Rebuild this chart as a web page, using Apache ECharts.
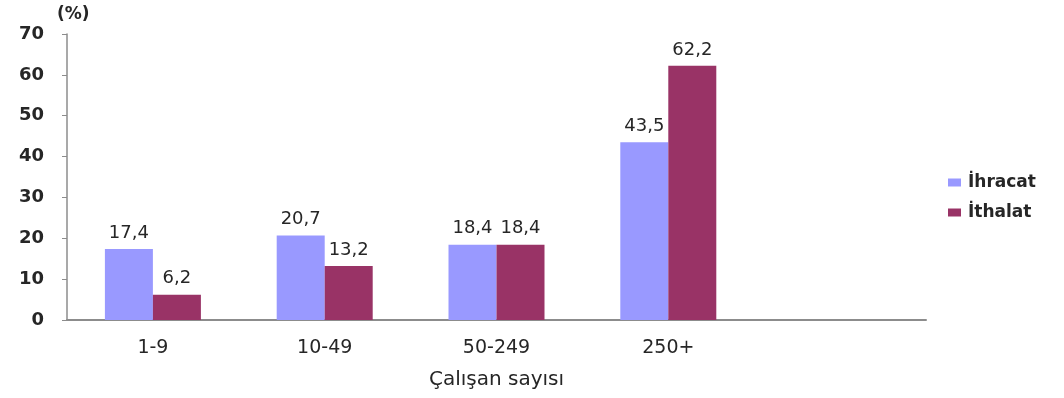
<!DOCTYPE html>
<html>
<head>
<meta charset="utf-8">
<script src="https://cdn.jsdelivr.net/npm/echarts@6/dist/echarts.min.js"></script>
<style>
  html, body { margin: 0; padding: 0; background: #fff; }
  #chart { width: 1064px; height: 398px; }
</style>
</head>
<body>
<div id="chart"></div>
<script>
// Employee-size classes (last slot left empty to leave room on the right)
const categories = ['1-9', '10-49', '50-249', '250+', ''];
const ihracat = [17.4, 20.7, 18.4, 43.5, null];
const ithalat = [6.2, 13.2, 18.4, 62.2, null];
const yTicks = [0, 10, 20, 30, 40, 50, 60, 70];

const FONT = '"DejaVu Sans", "Liberation Sans", Arial, sans-serif';
const TEXT = '#262626';
const fmt = p => String(p.value).replace('.', ',');

const barLabel = {
  show: true, position: 'top', distance: 7, formatter: fmt,
  fontFamily: FONT, fontSize: 18, color: TEXT
};

const chart = echarts.init(document.getElementById('chart'));
chart.setOption({
  animation: false,
  backgroundColor: '#ffffff',
  textStyle: { fontFamily: FONT },
  grid: { left: 67, right: 138, top: 34, bottom: 78, containLabel: false, outerBoundsMode: 'none' },
  legend: {
    orient: 'vertical',
    left: 943,
    top: 169,
    itemWidth: 13,
    itemHeight: 8,
    itemGap: 13,
    icon: 'rect',
    textStyle: { fontFamily: FONT, fontSize: 17, fontWeight: 'bold', color: TEXT, padding: [0, 0, 0, 2] },
    data: ['İhracat', 'İthalat']
  },
  xAxis: {
    type: 'category',
    data: categories,
    name: 'Çalışan sayısı',
    nameLocation: 'middle',
    nameGap: 50,
    nameTextStyle: { fontFamily: FONT, fontSize: 20, color: TEXT },
    axisLine: { lineStyle: { color: '#8c8c8c', width: 2 } },
    axisTick: { show: false },
    axisLabel: { fontFamily: FONT, fontSize: 19, color: TEXT, margin: 19 }
  },
  yAxis: {
    type: 'value',
    min: yTicks[0],
    max: yTicks[yTicks.length - 1],
    interval: 10,
    name: '(%)',
    nameLocation: 'end',
    nameGap: 11,
    nameTextStyle: { fontFamily: FONT, fontSize: 17, fontWeight: 'bold', color: TEXT, align: 'left', padding: [0, 0, 0, -10] },
    splitLine: { show: false },
    axisLine: { show: true, lineStyle: { color: '#8c8c8c', width: 1.5 } },
    axisTick: { show: true, length: 5, lineStyle: { color: '#8c8c8c' } },
    axisLabel: { fontFamily: FONT, fontSize: 18, fontWeight: 'bold', color: TEXT, margin: 23 }
  },
  series: [
    {
      name: 'İhracat',
      type: 'bar',
      data: ihracat,
      barWidth: 48,
      barGap: '0%',
      itemStyle: { color: '#9999ff' },
      label: barLabel
    },
    {
      name: 'İthalat',
      type: 'bar',
      data: ithalat,
      barWidth: 48,
      barGap: '0%',
      itemStyle: { color: '#993366' },
      label: barLabel
    }
  ]
});
</script>
</body>
</html>
